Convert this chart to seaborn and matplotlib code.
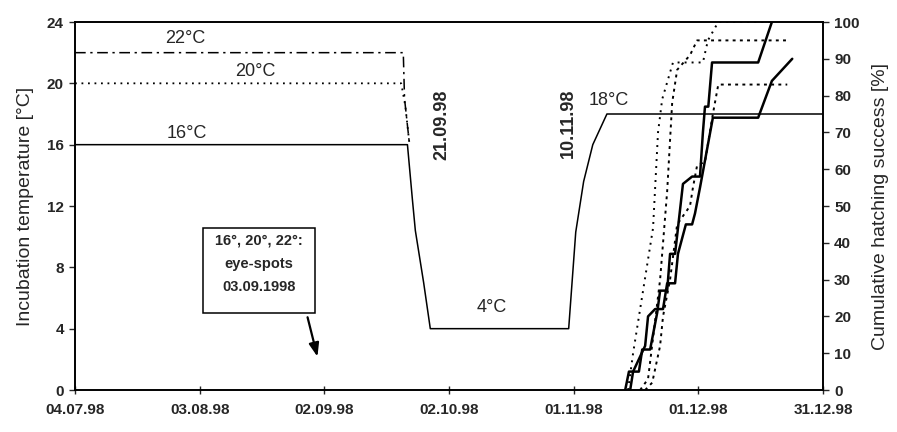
import matplotlib
matplotlib.use("Agg")
import matplotlib.pyplot as plt
import seaborn as sns
import pandas as pd

# x values are days counted from 04.07.98
tick_days = [0, 30, 60, 90, 120, 150, 180]
tick_labels = ["04.07.98", "03.08.98", "02.09.98", "02.10.98", "01.11.98", "01.12.98", "31.12.98"]

# incubation temperature regimes [°C]
t16_days = [0, 80.0, 81.2, 81.9, 83.9, 85.5, 118.8, 120.5, 122.4, 124.6, 128.0, 180]
t16_temp = [16, 16, 12.4, 10.4, 7.0, 4, 4, 10.3, 13.6, 16, 18, 18]
t20_days = [0, 78.5, 79.5, 80.5]
t20_temp = [20, 20, 18.5, 16]
t22_days = [0, 79.0, 79.3, 80.5]
t22_temp = [22, 22, 19, 16]

# cumulative hatching success [%]
s1_days = [132.4, 133.3, 135.7, 136.5, 138.4, 140.1, 140.8, 142.5, 143.2, 144.4,
           146.3, 148.5, 150.4, 151.1, 151.6, 152.4, 153.3, 164.4, 167.7]
s1_pct = [0, 5, 5, 11, 11, 21, 27, 27, 37, 37, 56, 58, 58, 70, 77, 77, 89, 89, 100]
s2_days = [133.6, 134.3, 137.2, 137.9, 139.6, 141.5, 142.5, 144.4, 145.1, 147.0,
           148.5, 149.2, 150.4, 153.5, 164.4, 167.7, 172.6]
s2_pct = [0, 5, 12, 20, 22, 22, 29, 29, 37, 45, 45, 48, 55, 74, 74, 84, 90]
d1_days = [133.1, 134.3, 139.1, 140.3, 141.3, 143.9, 151.1, 152.3, 154.8, 167.7]
d1_pct = [0, 10, 44, 70, 79, 89, 89, 95, 100, 100]
d2_days = [136.0, 137.9, 140.8, 142.5, 143.7, 144.9, 148.0, 149.7, 171.6]
d2_pct = [0, 3, 30, 54, 78, 87, 91, 95, 95]
d3_days = [137.2, 138.9, 140.8, 141.5, 143.2, 144.9, 148.0, 148.7, 149.7, 151.6,
           153.5, 154.8, 171.4]
d3_pct = [0, 2, 12, 20, 30, 45, 50, 55, 61, 62, 75, 83, 83]

sns.set_style("ticks")
plt.rcParams["font.family"] = ["Liberation Sans", "DejaVu Sans"]
narrow = ["Liberation Sans Narrow", "Liberation Sans", "DejaVu Sans"]

fig = plt.figure(figsize=(8.97, 4.32), dpi=100)
ax = fig.add_axes([75 / 897, 1 - 390 / 432, 748 / 897, 368 / 432])
ax2 = ax.twinx()

dot = (0, (1, 2.6))
dashdot = (0, (7, 3, 1.5, 3))
shortdash = (0, (1.5, 2.2))

def draw(axis, xs, ys, ls, lw):
    df = pd.DataFrame({"x": xs, "y": ys})
    sns.lineplot(data=df, x="x", y="y", ax=axis, sort=False, estimator=None,
                 color="black", linestyle=ls, linewidth=lw, legend=False)

draw(ax, t22_days, t22_temp, dashdot, 1.1)
draw(ax, t20_days, t20_temp, dot, 1.3)
draw(ax, t16_days, t16_temp, "-", 1.1)

draw(ax2, d1_days, d1_pct, dot, 1.4)
draw(ax2, d2_days, d2_pct, shortdash, 1.4)
draw(ax2, d3_days, d3_pct, shortdash, 1.4)
draw(ax2, s1_days, s1_pct, "-", 1.8)
draw(ax2, s2_days, s2_pct, "-", 1.8)

ax.set_xlim(0, 180)
ax.set_ylim(0, 24)
ax2.set_ylim(0, 100)
ax.set_xticks(tick_days)
ax.set_xticklabels(tick_labels, family=narrow, fontweight="bold", fontsize=11)
ax.set_yticks(range(0, 25, 4))
ax.set_yticklabels([str(v) for v in range(0, 25, 4)], family=narrow,
                   fontweight="bold", fontsize=11)
ax2.set_yticks(range(0, 101, 10))
ax2.set_yticklabels([str(v) for v in range(0, 101, 10)], family=narrow,
                    fontweight="bold", fontsize=11)
ax.set_xlabel("")
ax.set_ylabel("Incubation temperature [°C]", fontsize=14, labelpad=9)
ax2.set_ylabel("Cumulative hatching success [%]", fontsize=14, labelpad=9)

ax.tick_params(axis="x", direction="inout", length=6, width=1, pad=6)
ax.tick_params(axis="y", direction="out", length=4, width=1, pad=4)
ax2.tick_params(axis="y", direction="out", length=4, width=1, pad=4)
for a in (ax, ax2):
    for sp in a.spines.values():
        sp.set_visible(True)
        sp.set_linewidth(1.2)
        sp.set_color("black")

# regime labels
ax.text(26.5, 22.4, "22°C", ha="center", va="bottom", fontsize=13)
ax.text(43.3, 20.2, "20°C", ha="center", va="bottom", fontsize=13)
ax.text(27.0, 16.15, "16°C", ha="center", va="bottom", fontsize=13)
ax.text(100.4, 4.8, "4°C", ha="center", va="bottom", fontsize=13)
ax.text(128.5, 18.35, "18°C", ha="center", va="bottom", fontsize=13)
ax.text(88.3, 17.3, "21.09.98", rotation=90, ha="center", va="center",
        fontsize=13, fontweight="bold")
ax.text(118.7, 17.4, "10.11.98", rotation=90, ha="center", va="center",
        fontsize=13, fontweight="bold")

# eye-spot note with arrow
box = plt.Rectangle((0.171, 0.209), 0.150, 0.231, transform=ax.transAxes,
                    facecolor="white", edgecolor="black", linewidth=1.1, zorder=5)
ax.add_patch(box)
note_lines = ["16°, 20°, 22°:", "eye-spots", "03.09.1998"]
for i, line in enumerate(note_lines):
    ax.text(0.246, 0.405 - i * 0.062, line, transform=ax.transAxes, ha="center",
            va="center", fontsize=10.5, fontweight="bold", family=narrow, zorder=6)
ax.annotate("", xy=(58.5, 2.0), xytext=(0.310, 0.205), textcoords="axes fraction",
            arrowprops=dict(arrowstyle="-|>,head_length=0.8,head_width=0.3",
                            color="black", lw=1.6), zorder=6)

fig.savefig("out.png", dpi=100)
